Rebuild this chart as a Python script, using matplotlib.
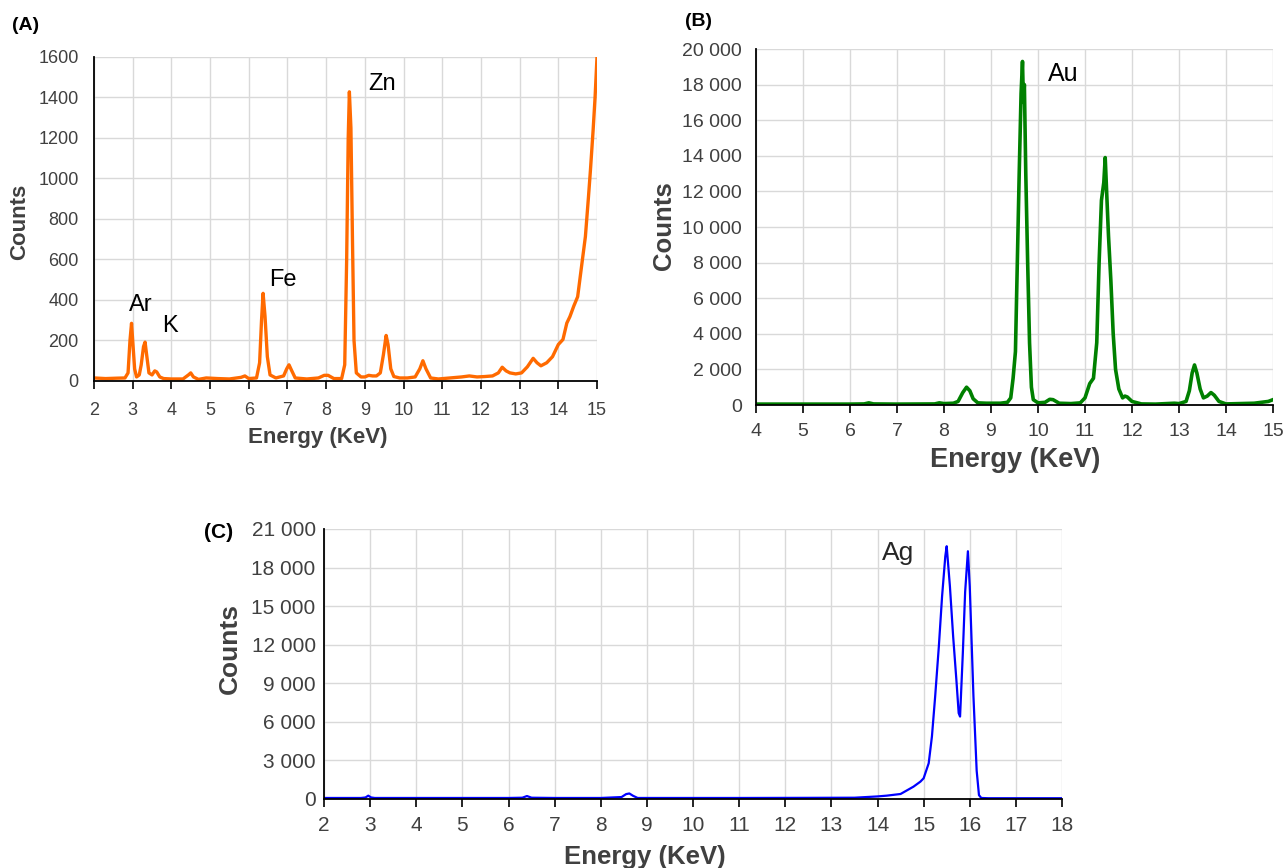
import matplotlib
matplotlib.use("Agg")
import matplotlib.pyplot as plt
from matplotlib import font_manager as fm
from matplotlib.ticker import FuncFormatter
import numpy as np

# ---- data ----
# (A) orange spectrum
energy_a = [2.0, 2.3, 2.6, 2.8, 2.88, 2.93, 2.97, 3.0, 3.05, 3.1, 3.17, 3.22, 3.28, 3.32, 3.36,
            3.42, 3.5, 3.57, 3.62, 3.7, 3.8, 4.0, 4.3, 4.44, 4.5, 4.57, 4.7, 4.9, 5.2, 5.5, 5.8,
            5.9, 6.0, 6.2, 6.28, 6.33, 6.37, 6.42, 6.48, 6.55, 6.7, 6.9, 6.98, 7.04, 7.1, 7.2,
            7.5, 7.8, 7.95, 8.05, 8.2, 8.4, 8.48, 8.53, 8.57, 8.6, 8.64, 8.68, 8.72, 8.78, 8.9,
            9.0, 9.1, 9.2, 9.3, 9.4, 9.48, 9.55, 9.6, 9.67, 9.75, 9.9, 10.1, 10.3, 10.42, 10.5,
            10.58, 10.7, 10.9, 11.2, 11.5, 11.7, 11.9, 12.1, 12.3, 12.45, 12.55, 12.65, 12.75,
            12.9, 13.05, 13.2, 13.35, 13.45, 13.55, 13.7, 13.85, 14.0, 14.12, 14.22, 14.3, 14.4,
            14.5, 14.6, 14.7, 14.78, 14.83, 14.9, 14.95, 15.0]
counts_a = [15, 12, 14, 15, 40, 200, 285, 200, 60, 20, 30, 80, 170, 192, 130,
            40, 30, 50, 45, 20, 12, 10, 10, 30, 40, 20, 8, 15, 12, 10, 18,
            25, 12, 15, 90, 300, 433, 320, 120, 30, 15, 25, 60, 80, 55, 15,
            10, 15, 28, 28, 12, 12, 80, 600, 1200, 1428, 1250, 700, 200, 40, 20,
            20, 28, 25, 25, 40, 130, 225, 180, 60, 22, 15, 15, 20, 60, 100,
            60, 15, 10, 15, 20, 25, 20, 22, 25, 40, 68, 50, 40,
            35, 40, 70, 112, 90, 75, 90, 120, 180, 205, 286, 318, 370,
            416, 565, 713, 910, 1040, 1240, 1400, 1600]

# (B) green spectrum
energy_b = [4.0, 5.0, 6.0, 6.3, 6.4, 6.5, 7.0, 7.8, 7.9, 8.0, 8.2, 8.3, 8.4, 8.48, 8.55, 8.62,
            8.72, 8.9, 9.2, 9.35, 9.42, 9.47, 9.52, 9.56, 9.6, 9.64, 9.67, 9.69, 9.71, 9.74,
            9.78, 9.82, 9.86, 9.9, 10.0, 10.15, 10.25, 10.32, 10.45, 10.7, 10.9, 11.0, 11.1,
            11.18, 11.25, 11.3, 11.35, 11.4, 11.43, 11.46, 11.5, 11.55, 11.6, 11.65, 11.72,
            11.8, 11.85, 11.9, 12.0, 12.2, 12.5, 12.9, 13.0, 13.15, 13.22, 13.28, 13.33, 13.38,
            13.45, 13.52, 13.6, 13.68, 13.75, 13.85, 14.0, 14.3, 14.6, 14.9, 15.0]
counts_b = [50, 50, 50, 60, 120, 60, 50, 60, 120, 80, 100, 200, 700, 1000, 800, 350,
            120, 100, 100, 150, 400, 1500, 3000, 8000, 13000, 17500, 19300, 17000, 18000, 13000,
            8000, 3500, 1000, 300, 120, 150, 320, 300, 100, 80, 120, 400, 1200,
            1500, 3500, 8000, 11500, 12500, 13900, 12000, 9500, 7000, 4000, 2000, 900,
            400, 500, 450, 200, 60, 50, 100, 80, 200, 800, 1800, 2250, 1800,
            900, 400, 500, 700, 550, 200, 60, 80, 100, 200, 300]

# (C) blue spectrum
energy_c = [2.0, 2.8, 2.9, 2.96, 3.02, 3.1, 4.0, 5.0, 6.0, 6.3, 6.4, 6.5, 7.0, 8.0, 8.45, 8.55,
            8.62, 8.7, 8.8, 9.5, 11.0, 12.5, 13.5, 14.0, 14.2, 14.5, 14.78, 14.93, 15.0, 15.11,
            15.18, 15.25, 15.33, 15.4, 15.47, 15.5, 15.57, 15.64, 15.71, 15.76, 15.79, 15.85,
            15.9, 15.96, 16.0, 16.08, 16.15, 16.2, 16.25, 16.4, 17.0, 18.0]
counts_c = [80, 80, 120, 260, 120, 80, 80, 80, 80, 100, 230, 100, 80, 80, 150, 380,
            430, 250, 80, 80, 80, 90, 100, 200, 260, 390, 960, 1350, 1610, 2780,
            4860, 7970, 11870, 15760, 18880, 19660, 16540, 12650, 9270, 6680, 6410, 11350,
            16100, 19270, 16540, 8000, 2200, 300, 80, 60, 60, 60]

peaks_a = [("Ar", 141, 305), ("K", 170, 326), ("Fe", 283, 280), ("Zn", 382, 84)]
peaks_b = [("Au", 1063, 74)]
peaks_c = [("Ag", 898, 553)]

W, H = 1283, 868
fig = plt.figure(figsize=(W / 100, H / 100), dpi=100)

have = {f.name for f in fm.fontManager.ttflist}
sans = "Liberation Sans" if "Liberation Sans" in have else "DejaVu Sans"
narrow = "Liberation Sans Narrow" if "Liberation Sans Narrow" in have else sans
plt.rcParams["font.family"] = sans

GRID = "#d9d9d9"
TICKC = "#404040"
LABC = "#404040"


def px_ax(l, t, r, b):
    return fig.add_axes([l / W, 1 - b / H, (r - l) / W, (b - t) / H])


def space_thousands(v, pos):
    return "{:,.0f}".format(v).replace(",", " ")


def style(ax, xpad, ypad, fsize, fam):
    ax.grid(True, color=GRID, lw=1)
    ax.set_axisbelow(True)
    for s in ["top", "right"]:
        ax.spines[s].set_visible(False)
    for s in ["left", "bottom"]:
        ax.spines[s].set_color("black")
        ax.spines[s].set_linewidth(1.3)
    ax.tick_params(axis="x", length=6, width=1.2, color="black", pad=xpad,
                   labelsize=fsize, labelcolor=TICKC)
    ax.tick_params(axis="y", length=0, pad=ypad, labelsize=fsize, labelcolor=TICKC)
    for lab in ax.get_xticklabels() + ax.get_yticklabels():
        lab.set_family(fam)


# ---- (A)
axa = px_ax(94, 57, 597, 381)
axa.plot(energy_a, counts_a, color="#ff6a00", lw=2.4)
axa.set_xlim(2, 15)
axa.set_ylim(0, 1600)
axa.set_xticks(range(2, 16))
axa.set_yticks(range(0, 1601, 200))
style(axa, 9, 11, 13, sans)

# ---- (B)
axb = px_ax(756, 49, 1273, 405)
axb.plot(energy_b, counts_b, color="#008000", lw=2.6)
axb.set_xlim(4, 15)
axb.set_ylim(0, 20000)
axb.set_xticks(range(4, 16))
axb.set_yticks(range(0, 20001, 2000))
axb.yaxis.set_major_formatter(FuncFormatter(space_thousands))
style(axb, 7, 10, 14, sans)

# ---- (C)
axc = px_ax(324, 529, 1062, 799)
axc.plot(energy_c, counts_c, color="#0000ff", lw=1.6)
axc.set_xlim(2, 18)
axc.set_ylim(0, 21000)
axc.set_xticks(range(2, 19))
axc.set_yticks(range(0, 21001, 3000))
axc.yaxis.set_major_formatter(FuncFormatter(space_thousands))
style(axc, 6, 6, 15, narrow)


def ftext(x, y, s, **kw):
    fig.text(x / W, 1 - y / H, s, ha="center", va="center", **kw)


# panel letters
ftext(26, 25, "(A)", fontsize=14, fontweight="bold")
ftext(698, 22, "(B)", fontsize=14, fontweight="bold")
ftext(219, 532, "(C)", fontsize=15, fontweight="bold", family=narrow)

# axis titles
ftext(20, 222, "Counts", fontsize=16, fontweight="bold", color=LABC, rotation=90)
ftext(318, 438, "Energy (KeV)", fontsize=16, fontweight="bold", color=LABC)
ftext(664, 226, "Counts", fontsize=18.5, fontweight="bold", color=LABC, rotation=90, family=narrow)
ftext(1015, 460, "Energy (KeV)", fontsize=19.5, fontweight="bold", color=LABC, family=narrow)
ftext(230, 648, "Counts", fontsize=19, fontweight="bold", color=LABC, rotation=90, family=narrow)
ftext(645, 857, "Energy (KeV)", fontsize=18.5, fontweight="bold", color=LABC, family=narrow)

# peak labels
for name, x, y in peaks_a:
    ftext(x, y, name, fontsize=17)
for name, x, y in peaks_b:
    ftext(x, y, name, fontsize=18)
for name, x, y in peaks_c:
    ftext(x, y, name, fontsize=19, color="#262626", family=narrow)

fig.savefig("out.png", dpi=100)
